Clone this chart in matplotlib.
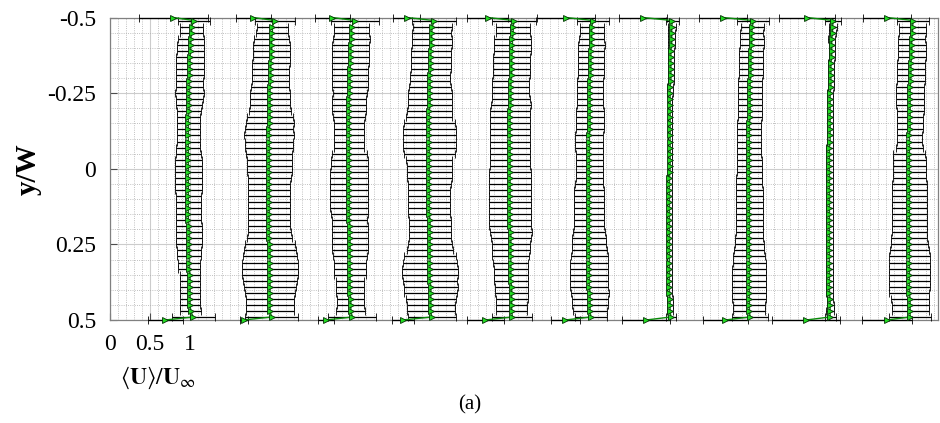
import numpy as np
import matplotlib
matplotlib.use('Agg')
import matplotlib.pyplot as plt
from matplotlib.ticker import MultipleLocator

plt.rcParams['font.family'] = ['Liberation Serif', 'DejaVu Serif']
plt.rcParams['mathtext.fontset'] = 'stix'
plt.rcParams['axes.unicode_minus'] = False

# ── data ──────────────────────────────
# interior stations y/W = -0.49 ... 0.49 (step 0.02), plus wall points at +-0.5
y_inner = np.round(np.arange(-0.49, 0.4901, 0.02), 2)

mean_0 = [1.05,1.02,1.02,1.01,1.01,1.01,1.00,1.00,1.00,1.00, 0.99,0.99,0.99,0.99,0.99,0.99,0.98,0.98,0.98,0.98,
          0.98,0.98,0.98,0.98,0.98,0.98,0.98,0.98,0.98,0.98, 0.98,0.98,0.98,0.98,0.99,0.99,0.99,0.99,0.99,0.99,
          0.99,0.99,1.00,1.00,1.00,1.00,1.00,1.00,1.01,1.04]
mean_1 = [1.06,1.03,1.03,1.02,1.02,1.02,1.02,1.01,1.01,1.01, 1.01,1.00,1.00,1.00,1.00,1.00,1.00,1.00,0.99,0.99,
          0.99,0.99,0.99,0.99,0.99,0.99,0.99,0.99,0.99,0.99, 0.99,0.99,0.99,0.99,0.99,0.99,0.99,1.00,1.00,1.00,
          1.00,1.00,1.00,1.00,1.00,1.00,1.00,1.00,1.00,1.02]
mean_2 = [1.06,1.02,1.02,1.02,1.01,1.01,1.01,1.01,1.00,1.00, 1.00,1.00,1.00,0.99,0.99,0.99,0.99,0.99,0.99,0.99,
          0.99,0.99,0.99,0.99,0.99,0.99,0.99,0.99,0.99,0.99, 0.99,0.99,0.99,0.99,1.00,1.00,1.00,1.00,1.00,1.00,
          1.00,1.00,1.00,1.00,1.00,1.00,1.01,1.01,1.01,1.03]
mean_3 = [1.05,1.03,1.02,1.02,1.02,1.01,1.01,1.01,1.01,1.00, 1.00,1.00,1.00,1.00,1.00,0.99,0.99,0.99,0.99,0.99,
          0.99,0.99,0.99,0.99,0.99,0.99,0.99,0.99,0.99,0.99, 0.99,0.99,0.99,1.00,1.00,1.00,1.00,1.00,1.00,1.00,
          1.00,1.00,1.00,1.00,1.01,1.01,1.01,1.01,1.01,1.02]
mean_4 = [1.05,1.04,1.04,1.03,1.03,1.03,1.02,1.02,1.02,1.02, 1.01,1.01,1.01,1.01,1.01,1.00,1.00,1.00,1.00,1.00,
          1.00,1.00,1.00,1.00,1.00,1.00,1.00,1.00,1.00,1.00, 1.00,1.00,1.00,1.00,1.00,1.01,1.01,1.01,1.01,1.01,
          1.01,1.01,1.01,1.01,1.02,1.02,1.02,1.02,1.02,1.03]
mean_5 = [1.04,1.02,1.02,1.02,1.02,1.01,1.01,1.01,1.01,1.01, 1.00,1.00,1.00,1.00,1.00,1.00,1.00,1.00,1.00,0.99,
          0.99,0.99,0.99,0.99,0.99,0.99,0.99,0.99,0.99,0.99, 0.99,0.99,0.99,0.99,0.99,0.99,0.99,0.99,0.99,0.99,
          0.99,0.99,0.99,0.99,0.99,1.00,1.00,1.00,1.00,1.01]
mean_6 = [1.03,1.02,1.02,1.02,1.02,1.01,1.01,1.01,1.01,1.01, 1.01,1.00,1.00,1.00,1.00,1.00,1.00,1.00,1.00,1.00,
          1.00,1.00,1.00,1.00,1.00,1.00,0.99,0.99,0.99,0.99, 0.99,0.99,0.99,0.99,0.99,0.99,0.99,0.99,0.99,0.99,
          0.99,0.99,0.99,0.99,0.99,0.99,1.00,1.00,1.00,1.01]
mean_7 = [1.04,1.03,1.02,1.02,1.02,1.01,1.01,1.01,1.01,1.01, 1.00,1.00,1.00,1.00,1.00,1.00,1.00,0.99,0.99,0.99,
          0.99,0.99,0.99,0.99,0.99,0.99,0.99,0.99,0.99,0.99, 0.99,0.99,0.99,0.99,0.99,0.99,0.99,0.99,0.99,0.99,
          0.99,0.99,0.99,0.99,0.99,0.99,0.99,0.99,0.99,1.00]
mean_8 = [1.04,1.03,1.03,1.02,1.02,1.02,1.02,1.01,1.01,1.01, 1.01,1.01,1.00,1.00,1.00,1.00,1.00,1.00,1.00,1.00,
          1.00,0.99,0.99,0.99,0.99,0.99,0.99,0.99,0.99,0.99, 0.99,0.99,0.99,0.99,0.99,0.99,0.99,0.99,0.99,0.99,
          0.99,0.99,0.99,0.99,0.99,0.99,1.00,1.00,1.00,1.00]
mean_9 = [1.04,1.03,1.03,1.02,1.02,1.02,1.02,1.01,1.01,1.01, 1.01,1.00,1.00,1.00,1.00,1.00,1.00,1.00,1.00,0.99,
          0.99,0.99,0.99,0.99,0.99,0.99,0.99,0.99,0.99,0.99, 0.99,0.99,0.99,0.99,0.99,0.99,0.99,0.99,0.99,0.99,
          0.99,0.99,0.99,0.99,0.99,0.99,1.00,1.00,1.00,1.00]

std_0 = [0.20,0.14,0.14,0.16,0.17,0.17,0.17,0.18,0.17,0.17, 0.17,0.17,0.18,0.17,0.16,0.15,0.14,0.14,0.14,0.14,
         0.14,0.15,0.16,0.17,0.17,0.17,0.17,0.17,0.17,0.16, 0.16,0.16,0.16,0.16,0.16,0.16,0.16,0.16,0.15,0.15,
         0.14,0.14,0.13,0.13,0.12,0.12,0.12,0.12,0.13,0.27]
std_1 = [0.25,0.19,0.20,0.22,0.23,0.23,0.23,0.24,0.23,0.23, 0.23,0.24,0.25,0.25,0.25,0.26,0.29,0.30,0.30,0.31,
         0.30,0.30,0.29,0.28,0.28,0.28,0.27,0.26,0.26,0.26, 0.26,0.26,0.26,0.26,0.26,0.27,0.28,0.31,0.33,0.34,
         0.35,0.35,0.35,0.34,0.33,0.31,0.30,0.30,0.30,0.33]
std_2 = [0.30,0.22,0.22,0.23,0.23,0.23,0.23,0.23,0.23,0.23, 0.23,0.22,0.21,0.21,0.21,0.21,0.20,0.19,0.19,0.19,
         0.19,0.19,0.22,0.23,0.23,0.24,0.24,0.24,0.24,0.24, 0.24,0.24,0.23,0.22,0.22,0.22,0.22,0.22,0.22,0.21,
         0.20,0.20,0.20,0.18,0.17,0.17,0.17,0.17,0.18,0.30]
std_3 = [0.27,0.24,0.24,0.25,0.25,0.25,0.25,0.25,0.25,0.25, 0.25,0.26,0.27,0.28,0.28,0.28,0.29,0.32,0.33,0.33,
         0.33,0.33,0.32,0.29,0.28,0.28,0.28,0.27,0.26,0.26, 0.26,0.26,0.26,0.26,0.26,0.26,0.26,0.27,0.29,0.32,
         0.34,0.35,0.35,0.34,0.34,0.33,0.31,0.30,0.30,0.30]
std_4 = [0.27,0.21,0.21,0.23,0.23,0.23,0.23,0.23,0.23,0.23, 0.23,0.23,0.23,0.24,0.25,0.25,0.25,0.25,0.25,0.25,
         0.25,0.25,0.25,0.25,0.25,0.26,0.26,0.26,0.26,0.26, 0.26,0.26,0.26,0.26,0.26,0.26,0.25,0.24,0.24,0.23,
         0.22,0.21,0.21,0.21,0.21,0.21,0.20,0.19,0.19,0.25]
std_5 = [0.20,0.15,0.15,0.16,0.165,0.165,0.165,0.165,0.165,0.165, 0.165,0.165,0.165,0.165,0.165,0.17,0.175,0.175,0.175,0.175,
         0.175,0.175,0.17,0.17,0.17,0.17,0.17,0.175,0.185,0.19, 0.19,0.19,0.19,0.19,0.19,0.20,0.21,0.21,0.22,0.23,
         0.235,0.235,0.24,0.24,0.235,0.235,0.23,0.23,0.21,0.20]
std_6 = [0.08,0.05,0.04,0.04,0.04,0.035,0.035,0.035,0.035,0.035, 0.035,0.035,0.035,0.03,0.03,0.03,0.03,0.03,0.03,0.03,
         0.03,0.03,0.03,0.03,0.03,0.03,0.03,0.03,0.03,0.03, 0.03,0.03,0.03,0.03,0.03,0.03,0.03,0.03,0.03,0.03,
         0.03,0.03,0.03,0.03,0.03,0.03,0.035,0.035,0.04,0.06]
std_7 = [0.20,0.14,0.14,0.15,0.15,0.15,0.15,0.15,0.15,0.15, 0.15,0.15,0.15,0.15,0.15,0.15,0.15,0.15,0.15,0.15,
         0.15,0.15,0.15,0.155,0.155,0.155,0.16,0.16,0.17,0.17, 0.17,0.17,0.17,0.17,0.17,0.17,0.175,0.18,0.19,0.20,
         0.205,0.21,0.215,0.215,0.21,0.21,0.21,0.20,0.20,0.22]
std_8 = [0.10,0.05,0.045,0.045,0.04,0.04,0.04,0.04,0.04,0.04, 0.04,0.04,0.04,0.04,0.04,0.04,0.04,0.04,0.04,0.04,
         0.04,0.04,0.04,0.04,0.04,0.04,0.04,0.04,0.04,0.04, 0.04,0.04,0.04,0.04,0.04,0.04,0.04,0.04,0.04,0.04,
         0.04,0.04,0.04,0.04,0.04,0.04,0.04,0.045,0.05,0.07]
std_9 = [0.20,0.165,0.165,0.17,0.175,0.175,0.175,0.175,0.175,0.175, 0.175,0.175,0.175,0.175,0.175,0.17,0.16,0.16,0.16,0.16,
         0.16,0.165,0.20,0.21,0.21,0.21,0.21,0.215,0.22,0.22, 0.22,0.22,0.22,0.22,0.22,0.22,0.225,0.235,0.245,0.255,
         0.26,0.26,0.26,0.26,0.255,0.25,0.24,0.23,0.23,0.26]

# wall points (y/W = -0.5 and 0.5)
top_mean = [0.79, 0.79, 0.78, 0.71, 0.72, 0.70, 0.66, 0.66, 0.71, 0.71]
top_std = [0.43, 0.22, 0.22, 0.17, 0.26, 0.36, 0.30, 0.30, 0.35, 0.30]
bot_mean = [0.69, 0.67, 0.70, 0.66, 0.69, 0.69, 0.70, 0.69, 0.70, 0.71]
bot_std = [0.22, 0.05, 0.10, 0.14, 0.23, 0.18, 0.30, 0.28, 0.42, 0.31]

means = [mean_0, mean_1, mean_2, mean_3, mean_4, mean_5, mean_6, mean_7, mean_8, mean_9]
stds = [std_0, std_1, std_2, std_3, std_4, std_5, std_6, std_7, std_8, std_9]
# ──────────────────────────────────────

fig = plt.figure(figsize=(9.4, 4.23), dpi=100)
ax = fig.add_axes([0.117, 0.2435, 0.881, 0.7151])

yy = np.concatenate([[-0.5], y_inner, [0.5]])
for k in range(10):
    u = np.concatenate([[top_mean[k]], means[k], [bot_mean[k]]]) + k
    s = np.concatenate([[top_std[k]], stds[k], [bot_std[k]]])
    eb = ax.errorbar(u, yy, xerr=s, fmt='>-', color='#0a8a0a', lw=1.0,
                     ms=4.2, mfc='#22dd22', mec='#063006', mew=0.6,
                     ecolor='black', elinewidth=0.9, capsize=2.7, capthick=2.6,
                     zorder=3)
    for art in eb.get_children():
        art.set_clip_on(False)

ax.set_xlim(0, 10.35)
ax.set_ylim(0.5, -0.5)
ax.set_xticks([0, 0.5, 1])
ax.set_xticklabels(['0', '0.5', '1'])
ax.set_yticks([-0.5, -0.25, 0, 0.25, 0.5])
ax.set_yticklabels(['-0.5', '-0.25', '0', '0.25', '0.5'])
ax.xaxis.set_minor_locator(MultipleLocator(0.1))
ax.yaxis.set_minor_locator(MultipleLocator(0.05))
ax.tick_params(which='major', direction='in', length=5, width=0.8, color='0.3',
               labelsize=17, pad=10)
ax.tick_params(which='minor', length=0)
ax.grid(which='major', color='0.8', lw=0.8, ls='-')
ax.grid(which='minor', color='0.68', lw=0.6, ls=':')
ax.set_axisbelow(True)
for sp in ax.spines.values():
    sp.set_color('0.5')
    sp.set_linewidth(0.9)

ax.set_ylabel('y/W', fontsize=21, fontweight='bold', labelpad=4)
ax.text(0.058, -0.19, r'$\langle\mathbf{U}\rangle/\mathbf{U}_{\infty}$', transform=ax.transAxes,
        ha='center', va='center', fontsize=17)
fig.text(0.5, 0.043, '(a)', ha='center', va='center', fontsize=15)

fig.savefig('out.png', dpi=100)
